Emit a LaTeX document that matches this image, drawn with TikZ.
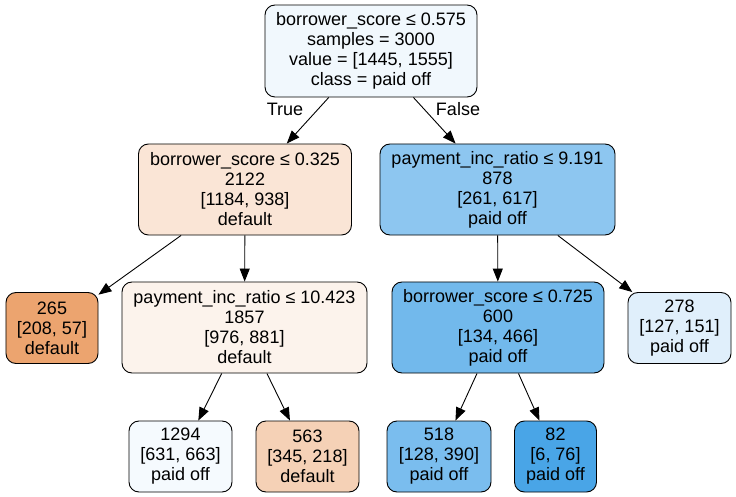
\documentclass[tikz,border=0pt]{standalone}
\usepackage{fontspec}
\setmainfont{Liberation Sans}
\usetikzlibrary{arrows.meta}
\definecolor{cRoot}{RGB}{241,248,253}
\definecolor{cLa}{RGB}{250,229,214}
\definecolor{cRa}{RGB}{141,198,240}
\definecolor{cLeafA}{RGB}{236,164,111}
\definecolor{cMidA}{RGB}{252,243,236}
\definecolor{cMidB}{RGB}{114,185,236}
\definecolor{cLeafB}{RGB}{224,239,251}
\definecolor{cLeafC}{RGB}{245,250,254}
\definecolor{cLeafD}{RGB}{245,209,182}
\definecolor{cLeafE}{RGB}{122,189,238}
\definecolor{cLeafF}{RGB}{73,165,231}
\begin{document}
\begin{tikzpicture}[x=1bp,y=-1bp,
  box/.style={draw, rounded corners=10bp, line width=0.9bp, align=center, inner sep=0pt,
    font=\fontsize{18bp}{20bp}\selectfont},
  edge/.style={-{Triangle[length=13bp,width=10bp]}, line width=0.9bp},
  lbl/.style={font=\fontsize{18bp}{20bp}\selectfont, inner sep=0pt}]
\useasboundingbox (0,0) rectangle (736,497);
\node[box, fill=cRoot, minimum width=212bp, minimum height=92bp] (n0) at (371,51)
  {borrower\_score ≤ 0.575\\samples = 3000\\value = {[}1445, 1555{]}\\class = paid off};
\node[box, fill=cLa, minimum width=213bp, minimum height=91bp] (n1) at (245,189.5)
  {borrower\_score ≤ 0.325\\2122\\{[}1184, 938{]}\\default};
\node[box, fill=cRa, minimum width=235bp, minimum height=91bp] (n2) at (497.5,189.5)
  {payment\_inc\_ratio ≤ 9.191\\878\\{[}261, 617{]}\\paid off};
\node[box, fill=cLeafA, minimum width=92bp, minimum height=71bp] (n3) at (52,328)
  {265\\{[}208, 57{]}\\default};
\node[box, fill=cMidA, minimum width=245bp, minimum height=91bp] (n4) at (244.5,327.5)
  {payment\_inc\_ratio ≤ 10.423\\1857\\{[}976, 881{]}\\default};
\node[box, fill=cMidB, minimum width=212bp, minimum height=91bp] (n5) at (498,327.5)
  {borrower\_score ≤ 0.725\\600\\{[}134, 466{]}\\paid off};
\node[box, fill=cLeafB, minimum width=103bp, minimum height=71bp] (n6) at (679.5,328)
  {278\\{[}127, 151{]}\\paid off};
\node[box, fill=cLeafC, minimum width=103bp, minimum height=71bp] (n7) at (180.5,456.5)
  {1294\\{[}631, 663{]}\\paid off};
\node[box, fill=cLeafD, minimum width=103bp, minimum height=71bp] (n8) at (307.5,456.5)
  {563\\{[}345, 218{]}\\default};
\node[box, fill=cLeafE, minimum width=104bp, minimum height=71bp] (n9) at (439,456.5)
  {518\\{[}128, 390{]}\\paid off};
\node[box, fill=cLeafF, minimum width=82bp, minimum height=71bp] (n10) at (555.5,456.5)
  {82\\{[}6, 76{]}\\paid off};
\node[lbl] (tTrue) at (285,109) {True};
\node[lbl] (tFalse) at (458,109) {False};
\draw[edge] (n0) -- (n1);
\draw[edge] (n0) -- (n2);
\draw[edge] (n1) -- (n3);
\draw[edge] (n1) -- (n4);
\draw[edge] (n2) -- (n5);
\draw[edge] (n2) -- (n6);
\draw[edge] (n4) -- (n7);
\draw[edge] (n4) -- (n8);
\draw[edge] (n5) -- (n9);
\draw[edge] (n5) -- (n10);
\end{tikzpicture}
\end{document}
